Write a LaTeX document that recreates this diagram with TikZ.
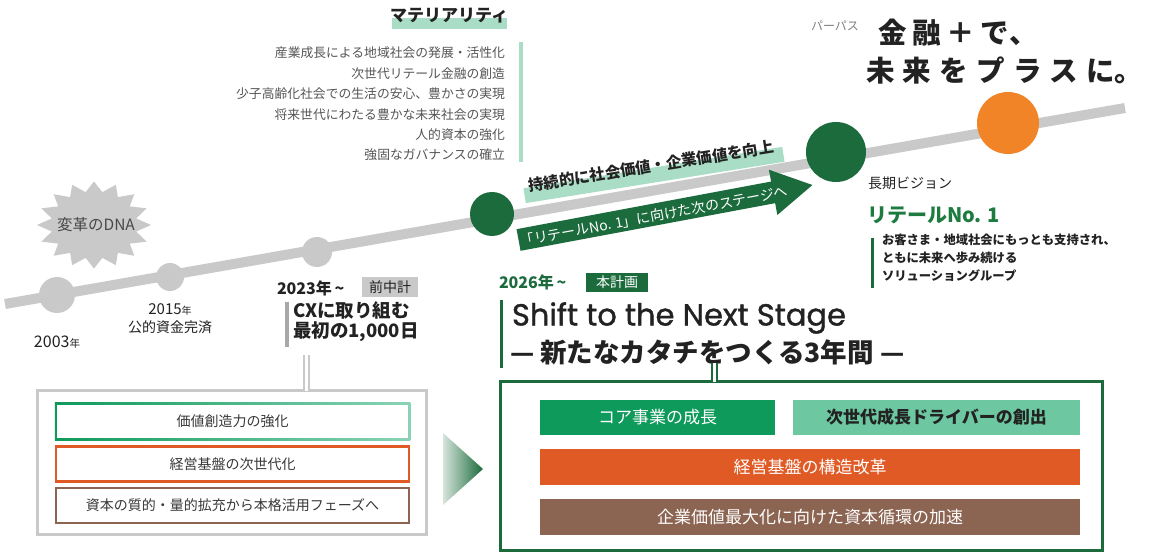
\documentclass[tikz,border=0pt]{standalone}
\usepackage{fontspec}
\setmainfont{Noto Sans CJK JP}
\newfontfamily\popfont[FakeBold=1.2]{Poppins}
\usetikzlibrary{calc}
\definecolor{tlgray}{HTML}{C9C9C9}
\definecolor{bargray}{HTML}{A8A8A8}
\definecolor{dkgreen}{HTML}{1B6B3C}
\definecolor{mdgreen}{HTML}{0E9A5B}
\definecolor{ltgreen}{HTML}{6DC8A2}
\definecolor{hlgreen}{HTML}{A9DDC6}
\definecolor{orangeR}{HTML}{E05A25}
\definecolor{brownB}{HTML}{8C6452}
\definecolor{orangeC}{HTML}{F08427}
\definecolor{txtgreen}{HTML}{1E7B40}
\definecolor{txtdark}{HTML}{222222}
\definecolor{txtgray}{HTML}{555555}
\newcommand{\fsz}[1]{\fontsize{#1bp}{#1bp}\selectfont}
\newcommand{\fszb}[2]{\fontsize{#1bp}{#2bp}\selectfont}
\begin{document}
\begin{tikzpicture}[x=1bp,y=-1bp,
  every node/.style={inner sep=0pt, outer sep=0pt, text=txtdark},
  dot/.style={circle, fill=#1},
  matline/.style={anchor=east, font=\fsz{12.8}, text=txtgray},
  lbox/.style={minimum width=353bp, minimum height=35bp, font=\fsz{14}, text=txtdark!90!white},
  rbar/.style={minimum height=36bp, font=\fsz{17}},
  dline/.style={double=white, double distance=3.5bp, line width=2.2bp}
]
\useasboundingbox (0,0) rectangle (1149,553);
\fill[white] (0,0) rectangle (1149,553);

% ---------- timeline ----------
\coordinate (tlA) at (5,304);
\coordinate (tlB) at (1125,108);
\draw[tlgray, line width=10bp] (tlA) -- (tlB);

% starburst
\fill[tlgray] plot[samples=33, domain=0:32, variable=\k]
  ({94+(50+7*cos(\k*180))*cos(\k*360/32)}, {225+(38.5+5*cos(\k*180))*sin(\k*360/32)}) -- cycle;
\node[font=\fsz{15.5}, text=txtgray!85!black] (dna) at (96,225) {変革のDNA};

\node[dot=tlgray, minimum size=36bp] (c1) at (57,295) {};
\node[dot=tlgray, minimum size=28bp] (c2) at (170,277) {};
\node[dot=tlgray, minimum size=30bp] (c3) at (317,252) {};
\node[dot=dkgreen, minimum size=44bp] (c4) at (492,214) {};
\node[dot=dkgreen, minimum size=60bp] (c5) at (836,152) {};
\node[dot=orangeC, minimum size=62bp] (c6) at (1008,123) {};

% ---------- past labels ----------
\node[font=\fsz{16}] (y2003) at (57,342) {2003{\fsz{10.5}年}};
\node[font=\fsz{15}] (y2015) at (170,309) {2015{\fsz{10}年}};
\node[font=\fsz{14}] (kokuteki) at (170,327) {公的資金完済};

\node[anchor=west, font=\bfseries\fsz{16}] (y2023) at (277,288) {2023年\,\char"7E};
\node[fill=tlgray, minimum width=56bp, minimum height=20bp, font=\fsz{14}, anchor=west] (prev) at (362,287) {前中計};
\fill[bargray] (285,302) rectangle (289,347);
\node[anchor=north west, align=left, font=\bfseries\fszb{18.5}{20}] (cx) at (293,302) {CXに取り組む\\最初の1,000日};

% ---------- left box ----------
\node[draw=tlgray, line width=3bp, minimum width=388bp, minimum height=143bp] (lb) at (232,462.5) {};
\coordinate (dl1) at (306.5,355);
\draw[dline, draw=tlgray] (dl1) -- (dl1 |- lb.north);

\shade[left color=mdgreen, middle color=mdgreen!55!ltgreen, right color=ltgreen!80!white] (54.75,402.75) rectangle (410.25,440.25);
\fill[white] (57.25,405.25) rectangle (407.75,437.75);
\node[lbox] (b1) at (232.5,421.5) {価値創造力の強化};
\node[lbox, draw=orangeR, line width=2.5bp] (b2) at (232.5,464) {経営基盤の次世代化};
\node[lbox, draw=brownB, line width=2.5bp] (b3) at (232.5,505.5) {資本の質的・量的拡充から本格活用フェーズへ};

% gradient triangle
\shade[left color=dkgreen!18!white, right color=dkgreen] (443,433) -- (483,469) -- (443,505) -- cycle;

% ---------- materiality ----------
\fill[hlgreen] (392,18) rectangle (507,29);
\node[font=\bfseries\fsz{17}] (mat) at (449,16) {マテリアリティ};
\fill[hlgreen] (519,42) rectangle (523,162);
\node[matline] (m1) at (505,53) {産業成長による地域社会の発展・活性化};
\node[matline] (m2) at (505,74) {次世代リテール金融の創造};
\node[matline] (m3) at (505,94) {少子高齢化社会での生活の安心、豊かさの実現};
\node[matline] (m4) at (505,115) {将来世代にわたる豊かな未来社会の実現};
\node[matline] (m5) at (505,135) {人的資本の強化};
\node[matline] (m6) at (505,155) {強固なガバナンスの確立};

% ---------- slanted labels ----------
\node[rotate=9.1, fill=hlgreen, minimum width=262bp, minimum height=15bp] (band) at (654,175) {};
\node[rotate=9.1, font=\bfseries\fsz{15.5}] (sus) at (651,166) {持続的に社会価値・企業価値を向上};

\begin{scope}[shift={(665.5,212.5)}, rotate=10.6]
\fill[dkgreen] (-149.5,-11) -- (109.5,-11) -- (109.5,-23) -- (149.5,0) -- (109.5,23) -- (109.5,11) -- (-149.5,11) -- cycle;
\end{scope}
\node[rotate=10.6, text=white, font=\fsz{14}] (arrtxt) at (654,216) {「リテールNo. 1」に向けた次のステージへ};

% ---------- 2026 plan ----------
\node[anchor=west, font=\bfseries\fsz{16}, text=dkgreen] (y2026) at (499,282) {2026年\,\char"7E};
\node[fill=dkgreen, text=white, font=\fsz{14}, minimum width=62bp, minimum height=19bp, anchor=west] (plan) at (586,282.5) {本計画};
\fill[dkgreen] (499.5,300) rectangle (503,368);
\node[anchor=west, font=\popfont\fsz{30.5}] (shift) at (512,318) {Shift to the Next Stage};
\node[anchor=west, font=\bfseries\fsz{26.5}] (sub) at (510,352) {— 新たなカタチをつくる3年間 —};

% ---------- right box ----------
\node[draw=dkgreen, line width=3bp, minimum width=602bp, minimum height=168bp] (rb) at (801,466) {};
\coordinate (dl2) at (714,363);
\draw[dline, draw=dkgreen, double distance=3bp, line width=2bp] (dl2) -- (dl2 |- rb.north);
\node[rbar, fill=mdgreen, text=white, minimum width=235bp, minimum height=35bp] (core) at (657.5,417.5) {コア事業の成長};
\node[rbar, fill=ltgreen, font=\bfseries\fsz{17}, minimum width=287bp, minimum height=35bp] (next) at (936.5,417.5) {次世代成長ドライバーの創出};
\node[rbar, fill=orangeR, text=white, minimum width=540bp] (reform) at (810,467) {経営基盤の構造改革};
\node[rbar, fill=brownB, text=white, minimum width=540bp] (capital) at (810,517) {企業価値最大化に向けた資本循環の加速};

% ---------- purpose ----------
\node[anchor=west, font=\fsz{12}, text=gray] (pp) at (811,26) {パーパス};
\node[anchor=west, font=\bfseries\fsz{28.5}] (p1) at (878,33) {{\addfontfeatures{LetterSpace=20}金融＋で}\makebox[0.5em][l]{、}};
\node[anchor=west, font=\bfseries\fsz{28.5}] (p2) at (866,71) {{\addfontfeatures{LetterSpace=29}未来をプラスに}\makebox[0.5em][l]{。}};

% ---------- vision ----------
\node[anchor=west, font=\fsz{14}] (vis) at (868,183) {長期ビジョン};
\node[anchor=west, font=\bfseries\fsz{20}, text=txtgreen] (r1) at (867,215) {リテールNo. 1};
\fill[dkgreen] (870.5,238) rectangle (873.5,288);
\node[anchor=north west, align=left, font=\bfseries\fszb{12.3}{18}] (vtext) at (882,234) {お客さま・地域社会にもっとも支持され、\\ともに未来へ歩み続ける\\ソリューショングループ};
\end{tikzpicture}
\end{document}
